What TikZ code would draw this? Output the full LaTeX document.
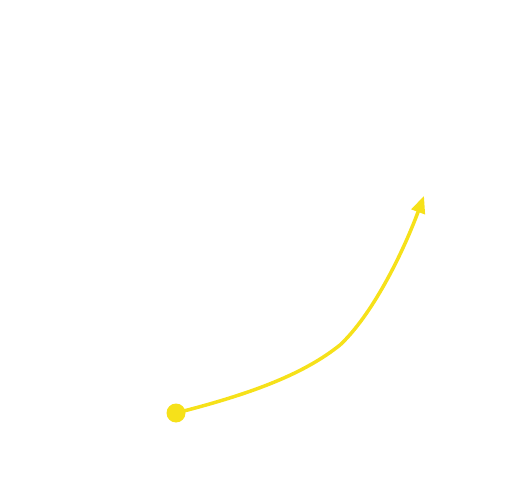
\documentclass[tikz,border=0pt]{standalone}
\usepackage{tikz}
\usetikzlibrary{arrows.meta}
\definecolor{pathcol}{HTML}{F6E11A}

\begin{document}
\begin{tikzpicture}[
  x=1pt, y=-1pt,
  >={Triangle[length=17pt,width=14pt]},
  startdot/.style={circle, fill=pathcol, minimum size=19pt, inner sep=0pt},
  arr/.style={->, draw=pathcol, line width=3.5pt, fill=none},
]
\useasboundingbox (0,0) rectangle (520,500);

% start point and end of the path
\node[startdot] (START) at (176,413) {};
\coordinate (BEND) at (340,345);
\coordinate (END) at (424,196);

% --- arrow ---
\draw[arr] (START.center) .. controls (255,393) and (305,373) .. (BEND)
  .. controls (372,315) and (402,255) .. (END);

\end{tikzpicture}
\end{document}
